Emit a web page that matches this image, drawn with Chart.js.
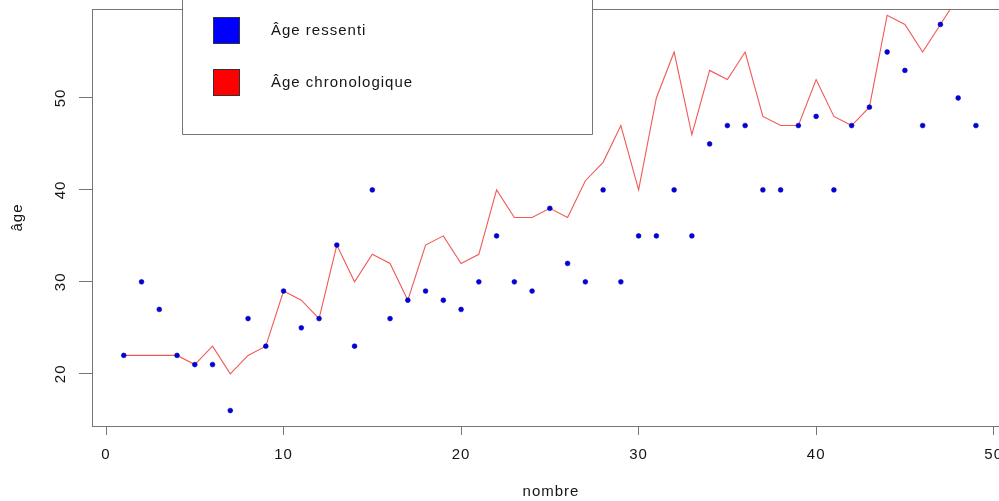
<!DOCTYPE html>
<html>
<head>
<meta charset="utf-8">
<script src="https://cdn.jsdelivr.net/npm/chart.js@4/dist/chart.umd.min.js"></script>
<style>
  html, body { margin: 0; padding: 0; background: #fff; overflow: hidden; width: 999px; height: 501px; }
  #wrap { position: relative; width: 1040px; height: 501px; }
</style>
</head>
<body>
<div id="wrap"><canvas id="c" width="1040" height="501"></canvas></div>
<script>
// ---- data ----
const nombre = [1,2,3,4,5,6,7,8,9,10,11,12,13,14,15,16,17,18,19,20,21,22,23,24,25,
                26,27,28,29,30,31,32,33,34,35,36,37,38,39,40,41,42,43,44,45,46,47,48,49];
const ageRessenti = [22,30,27,22,21,21,16,26,23,29,25,26,34,23,40,26,28,29,28,27,30,35,30,29,38,
                     32,30,40,30,35,35,40,35,45,47,47,40,40,47,48,40,47,49,55,53,47,58,50,47];
const ageChronologique = [22,22,22,22,21,23,20,22,23,29,28,26,34,30,33,32,28,34,35,32,33,40,37,37,38,
                          37,41,43,47,40,50,55,46,53,52,55,48,47,47,52,48,47,49,59,58,55,58,61,60];
const xTicks = [0,10,20,30,40,50];
const yTicks = [20,30,40,50];
const seriesLabels = ['Âge ressenti', 'Âge chronologique'];
const axisTitles = { x: 'nombre', y: 'âge' };

const GREY = '#767676';
const TEXT = '#151515';
const SPACING = '1px';
const FONT_SIZE = 15;

const blueData = nombre.map((n, i) => ({ x: n, y: ageRessenti[i] }));
const redData = nombre.map((n, i) => ({ x: n, y: ageChronologique[i] }));

Chart.defaults.font.family = '"Liberation Sans", Arial, sans-serif';
Chart.defaults.font.size = FONT_SIZE;
Chart.defaults.color = TEXT;

const spacingPlugin = {
  id: 'spacing',
  beforeLayout(chart) { chart.ctx.letterSpacing = SPACING; },
  beforeDraw(chart) { chart.ctx.letterSpacing = SPACING; }
};

const framePlugin = {
  id: 'frame',
  beforeDatasetsDraw(chart) {
    const { ctx, chartArea: a } = chart;
    ctx.save();
    ctx.strokeStyle = GREY;
    ctx.lineWidth = 1;
    ctx.strokeRect(Math.round(a.left) + 0.5, Math.round(a.top) + 0.5,
                   Math.round(a.right - a.left), Math.round(a.bottom - a.top));
    ctx.restore();
  }
};

const legendPlugin = {
  id: 'rlegend',
  afterDraw(chart) {
    const ctx = chart.ctx;
    ctx.save();
    ctx.letterSpacing = SPACING;
    const L = 182, R = 592, B = 134;
    ctx.fillStyle = '#fff';
    ctx.fillRect(L, -5, R - L, B + 5);
    ctx.strokeStyle = GREY;
    ctx.lineWidth = 1;
    ctx.beginPath();
    ctx.moveTo(L + 0.5, -5);
    ctx.lineTo(L + 0.5, B + 0.5);
    ctx.lineTo(R + 0.5, B + 0.5);
    ctx.lineTo(R + 0.5, -5);
    ctx.stroke();
    const cols = ['#0000ff', '#ff0000'];
    const rows = [30, 82];
    ctx.font = FONT_SIZE + 'px "Liberation Sans", Arial, sans-serif';
    ctx.textBaseline = 'middle';
    ctx.textAlign = 'left';
    rows.forEach((cy, i) => {
      ctx.fillStyle = cols[i];
      ctx.fillRect(213, cy - 13, 27, 27);
      ctx.strokeStyle = '#333';
      ctx.strokeRect(213.5, cy - 12.5, 26, 26);
      ctx.fillStyle = TEXT;
      ctx.fillText(seriesLabels[i], 271, cy + 1);
    });
    ctx.restore();
  }
};

function zeroPad(scale) {
  scale.paddingTop = 0; scale.paddingBottom = 0;
  scale.paddingLeft = 0; scale.paddingRight = 0;
}

new Chart(document.getElementById('c'), {
  data: {
    datasets: [
      {
        type: 'scatter',
        label: seriesLabels[0],
        data: blueData,
        pointRadius: 2.4,
        pointBackgroundColor: '#0000e6',
        pointBorderColor: '#00009a',
        pointBorderWidth: 0.6,
        order: 0
      },
      {
        type: 'line',
        label: seriesLabels[1],
        data: redData,
        borderColor: 'rgba(240,70,70,0.9)',
        borderWidth: 1.1,
        pointRadius: 0,
        tension: 0,
        fill: false,
        order: 1
      }
    ]
  },
  options: {
    responsive: false,
    animation: false,
    devicePixelRatio: 1,
    layout: { padding: { left: 0, top: 9, right: 30, bottom: 0 } },
    plugins: { legend: { display: false }, tooltip: { enabled: false } },
    scales: {
      x: {
        type: 'linear',
        position: 'bottom',
        min: -0.79,
        max: 50.92,
        afterBuildTicks(scale) { scale.ticks = xTicks.map(v => ({ value: v })); },
        afterFit(scale) { scale.height = 75; zeroPad(scale); },
        grid: { display: true, drawOnChartArea: false, drawTicks: true, tickLength: 9, color: GREY, lineWidth: 1 },
        border: { display: true, color: GREY },
        ticks: { padding: 11, maxRotation: 0, minRotation: 0, color: TEXT },
        title: { display: true, text: axisTitles.x, color: TEXT, padding: { top: 0, bottom: 0 } }
      },
      y: {
        type: 'linear',
        position: 'left',
        min: 14.32,
        max: 59.68,
        afterBuildTicks(scale) { scale.ticks = yTicks.map(v => ({ value: v })); },
        afterFit(scale) { scale.width = 92; zeroPad(scale); },
        grid: { display: true, drawOnChartArea: false, drawTicks: true, tickLength: 13, color: GREY, lineWidth: 1 },
        border: { display: true, color: GREY },
        ticks: { padding: 9, minRotation: 90, maxRotation: 90, crossAlign: 'center', color: TEXT },
        title: { display: true, text: axisTitles.y, color: TEXT, padding: { top: 8.5, bottom: 0 } }
      }
    }
  },
  plugins: [spacingPlugin, framePlugin, legendPlugin]
});
</script>
</body>
</html>
